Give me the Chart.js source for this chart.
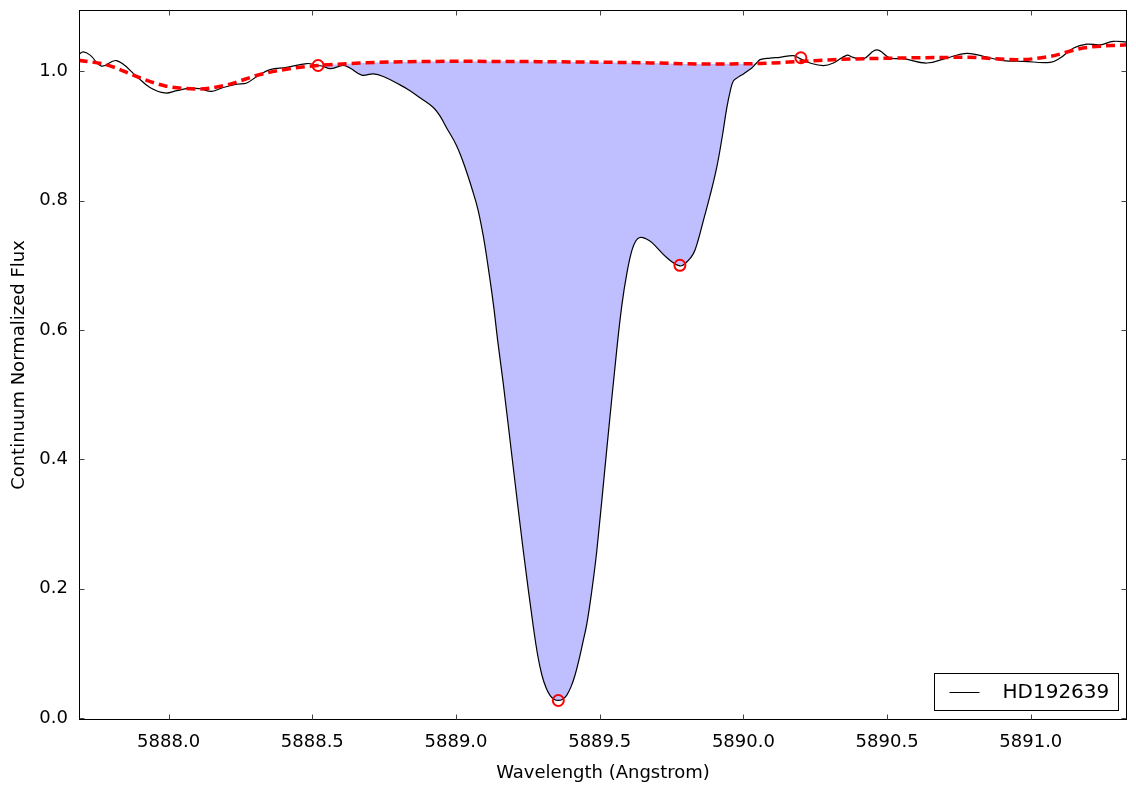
<!DOCTYPE html>
<html lang="en">
<head>
    <meta charset="UTF-8">
    <title>HD192639 Na D line</title>
    <style>
        body {
            margin: 0;
            padding: 0;
            background-color: #fff;
        }
        #wrap {
            width: 1136px;
            height: 787px;
        }
    </style>
</head>
<body>
    <div id="wrap">
        <canvas id="specChart" width="1136" height="787"></canvas>
    </div>

    <script src="https://cdn.jsdelivr.net/npm/chart.js"></script>
    <script>
        // spectrum
        const wavelength = [
            5887.687, 5887.703, 5887.727, 5887.767, 5887.819, 5887.889, 5887.935, 5887.987,
            5888.028, 5888.074, 5888.109, 5888.150, 5888.190, 5888.237, 5888.272, 5888.307,
            5888.353, 5888.411, 5888.481, 5888.520, 5888.538, 5888.562, 5888.608, 5888.631,
            5888.672, 5888.712, 5888.747, 5888.805, 5888.840, 5888.875, 5888.921, 5888.944,
            5888.968, 5889.002, 5889.031, 5889.060, 5889.077, 5889.095, 5889.111, 5889.130,
            5889.146, 5889.165, 5889.199, 5889.234, 5889.269, 5889.285, 5889.299, 5889.313,
            5889.327, 5889.341, 5889.356, 5889.371, 5889.385, 5889.400, 5889.414, 5889.428,
            5889.442, 5889.455, 5889.472, 5889.490, 5889.524, 5889.559, 5889.577, 5889.595,
            5889.612, 5889.626, 5889.640, 5889.661, 5889.682, 5889.733, 5889.779, 5889.803,
            5889.826, 5889.842, 5889.860, 5889.884, 5889.907, 5889.926, 5889.942, 5889.954,
            5889.965, 5889.982, 5890.000, 5890.016, 5890.029, 5890.044, 5890.058, 5890.093,
            5890.127, 5890.174, 5890.197, 5890.232, 5890.278, 5890.313, 5890.359, 5890.382,
            5890.417, 5890.464, 5890.510, 5890.556, 5890.638, 5890.707, 5890.777, 5890.835,
            5890.904, 5890.974, 5891.067, 5891.102, 5891.149, 5891.194, 5891.241, 5891.287,
            5891.335
        ];
        const flux = [
            1.026, 1.030, 1.025, 1.008, 1.0165, 0.992, 0.975, 0.9665,
            0.970, 0.974, 0.973, 0.969, 0.975, 0.980, 0.982, 0.992,
            1.0026, 1.006, 1.012, 1.009, 1.0077, 1.004, 1.009, 1.005,
            0.994, 0.996, 0.992, 0.979, 0.970, 0.959, 0.944, 0.931,
            0.912, 0.885, 0.852, 0.812, 0.785, 0.745, 0.700, 0.640,
            0.580, 0.515, 0.388, 0.259, 0.141, 0.095, 0.066, 0.047,
            0.035, 0.029, 0.027, 0.029, 0.035, 0.048, 0.066, 0.090,
            0.118, 0.145, 0.195, 0.259, 0.413, 0.568, 0.638, 0.689,
            0.723, 0.738, 0.743, 0.741, 0.735, 0.712, 0.699, 0.705,
            0.718, 0.738, 0.768, 0.808, 0.851, 0.898, 0.943, 0.969,
            0.985, 0.991, 0.996, 1.001, 1.005, 1.012, 1.018, 1.0205,
            1.0216, 1.0242, 1.0196, 1.0128, 1.0088, 1.0128, 1.0247, 1.0216,
            1.019, 1.033, 1.0205, 1.0196, 1.0128, 1.0205, 1.0278, 1.0232,
            1.0165, 1.0154, 1.0139, 1.0205, 1.036, 1.042, 1.041, 1.0463,
            1.045
        ];

        // continuum fit (red dashed)
        const contWavelength = [
            5887.687, 5887.785, 5887.900, 5887.992, 5888.109, 5888.202, 5888.318, 5888.434,
            5888.521, 5888.666, 5888.781, 5889.014, 5889.327, 5889.675, 5889.849, 5890.058,
            5890.207, 5890.312, 5890.545, 5890.777, 5890.951, 5891.067, 5891.182, 5891.335
        ];
        const continuum = [
            1.017, 1.010, 0.990, 0.977, 0.9727, 0.979, 0.995, 1.005,
            1.009, 1.0128, 1.0144, 1.0154, 1.0148, 1.013, 1.0113, 1.012,
            1.0155, 1.018, 1.0205, 1.0216, 1.018, 1.023, 1.036, 1.041
        ];

        // red circle markers
        const markerWavelength = [5888.520, 5889.356, 5889.779, 5890.200];
        const markerFlux = [1.009, 0.027, 0.700, 1.021];

        const fillStart = 5888.520;
        const fillEnd = 5890.200;

        const xTicks = [5888.0, 5888.5, 5889.0, 5889.5, 5890.0, 5890.5, 5891.0];
        const yTicks = [0.0, 0.2, 0.4, 0.6, 0.8, 1.0];

        const toPoints = (xs, ys) => xs.map((x, i) => ({ x: x, y: ys[i] }));
        const inRange = p => p.x >= fillStart && p.x <= fillEnd;

        const fluxPts = toPoints(wavelength, flux);
        const contPts = toPoints(contWavelength, continuum);

        const FONT = 'DejaVu Sans';
        const SMOOTH = 0.4;

        // matplotlib-like frame with inward ticks + legend box
        const framePlugin = {
            id: 'frame',
            afterDraw(chart) {
                const ctx = chart.ctx;
                const a = chart.chartArea;
                const xs = chart.scales.x, ys = chart.scales.y;
                ctx.save();
                ctx.strokeStyle = '#000';
                ctx.lineWidth = 1;
                const L = Math.round(a.left) + 0.5, R = Math.round(a.right) - 0.5;
                const T = Math.round(a.top) + 0.5, B = Math.round(a.bottom) - 0.5;
                ctx.strokeRect(L, T, R - L, B - T);

                ctx.strokeStyle = '#444';
                ctx.beginPath();
                xTicks.forEach(v => {
                    const px = Math.round(xs.getPixelForValue(v)) + 0.5;
                    ctx.moveTo(px, B); ctx.lineTo(px, B - 5);
                    ctx.moveTo(px, T); ctx.lineTo(px, T + 5);
                });
                yTicks.forEach(v => {
                    const py = Math.round(ys.getPixelForValue(v)) + 0.5;
                    ctx.moveTo(L, py); ctx.lineTo(L + 5, py);
                    ctx.moveTo(R, py); ctx.lineTo(R - 5, py);
                });
                ctx.stroke();

                // legend
                const bw = 184, bh = 37;
                const bx = Math.round(a.right - 9 - bw) + 0.5;
                const by = Math.round(a.bottom - 10 - bh) + 0.5;
                ctx.fillStyle = '#fff';
                ctx.fillRect(bx, by, bw, bh);
                ctx.strokeStyle = '#000';
                ctx.strokeRect(bx, by, bw, bh);
                const cy = Math.round(by + bh / 2) + 0.5;
                ctx.beginPath();
                ctx.moveTo(bx + 15, cy);
                ctx.lineTo(bx + 45, cy);
                ctx.stroke();
                ctx.fillStyle = '#000';
                ctx.font = '20px "' + FONT + '"';
                ctx.textBaseline = 'middle';
                ctx.textAlign = 'left';
                ctx.fillText(chart.data.datasets[1].label, bx + 68, by + bh / 2 + 1);
                ctx.restore();
            }
        };

        new Chart(document.getElementById('specChart'), {
            type: 'line',
            data: {
                datasets: [
                    {
                        label: 'Markers',
                        data: toPoints(markerWavelength, markerFlux),
                        showLine: false,
                        pointRadius: 5.5,
                        pointBorderWidth: 2,
                        pointBorderColor: '#ff0000',
                        pointBackgroundColor: 'rgba(0,0,0,0)',
                        order: 0
                    },
                    {
                        label: 'HD192639',
                        data: fluxPts,
                        borderColor: '#000',
                        borderWidth: 1.2,
                        pointRadius: 0,
                        tension: SMOOTH,
                        fill: false,
                        order: 2
                    },
                    {
                        label: 'Continuum',
                        data: contPts,
                        borderColor: '#ff0000',
                        borderWidth: 3.5,
                        borderDash: [9, 5],
                        pointRadius: 0,
                        cubicInterpolationMode: 'monotone',
                        fill: false,
                        order: 1
                    },
                    {
                        label: 'fill-flux',
                        data: fluxPts.filter(inRange),
                        borderWidth: 0,
                        borderColor: 'rgba(0,0,0,0)',
                        pointRadius: 0,
                        tension: SMOOTH,
                        fill: 4,
                        backgroundColor: 'rgba(0,0,255,0.25)',
                        order: 3
                    },
                    {
                        label: 'fill-cont',
                        data: contPts.filter(inRange),
                        borderWidth: 0,
                        borderColor: 'rgba(0,0,0,0)',
                        pointRadius: 0,
                        cubicInterpolationMode: 'monotone',
                        fill: false,
                        order: 4
                    }
                ]
            },
            options: {
                responsive: false,
                animation: false,
                devicePixelRatio: 1,
                layout: { padding: { top: 10, right: 9, left: 0, bottom: 0 } },
                plugins: {
                    legend: { display: false },
                    tooltip: { enabled: false }
                },
                scales: {
                    x: {
                        type: 'linear',
                        min: 5887.6882,
                        max: 5891.3347,
                        afterBuildTicks: s => { s.ticks = xTicks.map(v => ({ value: v })); },
                        afterFit: s => { s.height = 67; s.paddingLeft = 0; s.paddingRight = 0; },
                        grid: { display: false },
                        border: { display: false },
                        ticks: {
                            autoSkip: false,
                            maxRotation: 0,
                            padding: 4,
                            color: '#000',
                            font: { family: FONT, size: 18 },
                            callback: v => Number(v).toFixed(1)
                        },
                        title: {
                            display: true,
                            text: 'Wavelength (Angstrom)',
                            color: '#000',
                            font: { family: FONT, size: 18 },
                            padding: { top: 0, bottom: 3 }
                        }
                    },
                    y: {
                        type: 'linear',
                        min: -0.0032,
                        max: 1.0948,
                        afterBuildTicks: s => { s.ticks = yTicks.map(v => ({ value: v })); },
                        afterFit: s => { s.width = 79; s.paddingTop = 0; s.paddingBottom = 0; },
                        grid: { display: false },
                        border: { display: false },
                        ticks: {
                            padding: 3,
                            color: '#000',
                            font: { family: FONT, size: 18 },
                            callback: v => Number(v).toFixed(1)
                        },
                        title: {
                            display: true,
                            text: 'Continuum Normalized Flux',
                            color: '#000',
                            font: { family: FONT, size: 18 },
                            padding: { top: 9, bottom: 0 }
                        }
                    }
                }
            },
            plugins: [framePlugin]
        });
    </script>
</body>
</html>
